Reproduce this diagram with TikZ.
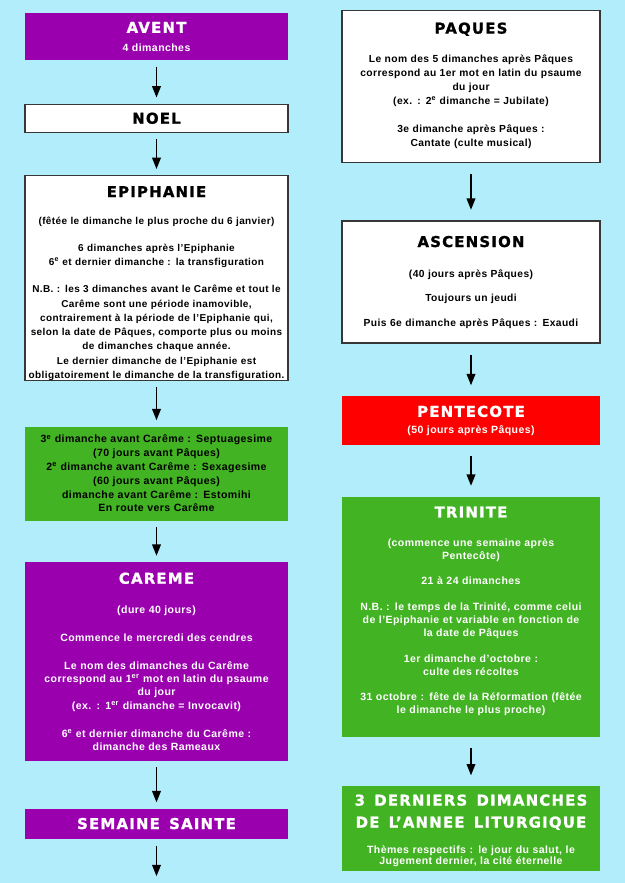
\documentclass[tikz,border=0pt]{standalone}
\usepackage{fontspec}
\setmainfont{Liberation Sans}[LetterSpace=4]
\newfontfamily\titlefont{DejaVu Sans}[LetterSpace=8, BoldFeatures={FakeBold=1.2}]
\usetikzlibrary{arrows.meta,positioning}
\definecolor{litSky}{RGB}{178,237,251}
\definecolor{litPurple}{RGB}{155,0,175}
\definecolor{litGreen}{RGB}{66,179,34}
\definecolor{litRed}{RGB}{255,0,0}
\definecolor{litFrame}{RGB}{55,55,55}
\newcommand{\boxtitle}[1]{{\titlefont\bfseries\fontsize{11.2}{12}\selectfont\spaceskip=0.62em\relax #1}}
\tikzset{
  season/.style={
    rectangle, align=center, inner sep=0pt,
    font=\bfseries\fontsize{7.9}{10}\selectfont},
  leftbox/.style={season, minimum width=197.25pt, text width=195pt},
  rightbox/.style={season, minimum width=193.5pt, text width=190pt},
  whitebox/.style={fill=white, draw=litFrame, line width=1.1pt, text=black},
  purplebox/.style={fill=litPurple, text=white},
  greenbox/.style={fill=litGreen, text=white},
  redbox/.style={fill=litRed, text=white},
  arrowline/.style={-{Triangle[length=8.5pt,width=6.5pt]}, line width=1.1pt, draw=black},
  leftarrow/.style={arrowline, shorten <=4.5pt, shorten >=4.5pt},
  rightarrow/.style={arrowline, shorten <=8pt, shorten >=8pt}
}

\begin{document}
\begin{tikzpicture}[x=0.75pt,y=-0.75pt]
    \fill[litSky] (0,0) rectangle (625,883);

    % temps de Noel
    \node[leftbox, purplebox, minimum height=35.25pt, anchor=north] (avent) at (156.5,13)
        {\boxtitle{AVENT}\\[4pt] 4 dimanches};
    \node[leftbox, whitebox, minimum height=21pt, below=32.25pt of avent] (noel)
        {\boxtitle{NOEL}};
    \node[leftbox, whitebox, minimum height=151.5pt, below=31.5pt of noel,
          font=\bfseries\fontsize{7.5}{10.7}\selectfont] (epiphanie)
        {\rule{0pt}{16pt}\boxtitle{EPIPHANIE}\\[10pt]
         (fêtée le dimanche le plus proche du 6 janvier)\\[9.5pt]
         6 dimanches après l’Epiphanie\\
         6\textsuperscript{e} et dernier dimanche : la transfiguration\\[9.5pt]
         N.B. : les 3 dimanches avant le Carême et tout le\\
         Carême sont une période inamovible,\\
         contrairement à la période de l’Epiphanie qui,\\
         selon la date de Pâques, comporte plus ou moins\\
         de dimanches chaque année.\\
         Le dernier dimanche de l’Epiphanie est\\
         obligatoirement le dimanche de la transfiguration.};
    \node[leftbox, greenbox, text=black, minimum height=70.5pt, below=33.75pt of epiphanie,
          font=\bfseries\fontsize{7.9}{10.35}\selectfont] (septuag)
        {3\textsuperscript{e} dimanche avant Carême : Septuagesime\\
         (70 jours avant Pâques)\\
         2\textsuperscript{e} dimanche avant Carême : Sexagesime\\
         (60 jours avant Pâques)\\
         dimanche avant Carême : Estomihi\\
         En route vers Carême};

    % temps de Paques
    \node[leftbox, purplebox, minimum height=149.25pt, below=30.75pt of septuag] (careme)
        {\boxtitle{CAREME}\\[12pt]
         (dure 40 jours)\\[11pt]
         Commence le mercredi des cendres\\[11pt]
         Le nom des dimanches du Carême\\
         correspond au 1\textsuperscript{er} mot en latin du psaume\\
         du jour\\
         (ex. : 1\textsuperscript{er} dimanche = Invocavit)\\[11pt]
         6\textsuperscript{e} et dernier dimanche du Carême :\\
         dimanche des Rameaux};
    \node[leftbox, purplebox, minimum height=22.5pt, below=35.25pt of careme] (semaine)
        {\boxtitle{SEMAINE SAINTE}};
    \coordinate[below=28pt of semaine] (leftend);

    \draw[leftarrow] (avent) -- (noel);
    \draw[leftarrow] (noel) -- (epiphanie);
    \draw[leftarrow] (epiphanie) -- (septuag);
    \draw[leftarrow] (septuag) -- (careme);
    \draw[leftarrow] (careme) -- (semaine);
    \draw[arrowline, shorten <=5.25pt] (semaine) -- (leftend);

    % colonne de droite
    \node[rightbox, whitebox, minimum height=114pt, anchor=north,
          font=\bfseries\fontsize{7.7}{10.5}\selectfont] (paques) at (471,10)
        {\boxtitle{PAQUES}\\[11pt]
         Le nom des 5 dimanches après Pâques\\
         correspond au 1er mot en latin du psaume\\
         du jour\\
         (ex. : 2\textsuperscript{e} dimanche = Jubilate)\\[11pt]
         3e dimanche après Pâques :\\
         Cantate (culte musical)\rule[-3pt]{0pt}{3pt}};
    \node[rightbox, whitebox, minimum height=91.5pt, below=42.75pt of paques,
          font=\bfseries\fontsize{7.7}{10.5}\selectfont] (ascension)
        {\boxtitle{ASCENSION}\\[12pt]
         (40 jours après Pâques)\\[8pt]
         Toujours un jeudi\\[8pt]
         Puis 6e dimanche après Pâques : Exaudi};
    \node[rightbox, redbox, minimum height=36.75pt, below=39pt of ascension,
          font=\bfseries\fontsize{7.9}{10.5}\selectfont] (pentecote)
        {\boxtitle{PENTECOTE}\\[2pt] (50 jours après Pâques)};
    \node[rightbox, greenbox, minimum height=180pt, below=38.25pt of pentecote,
          font=\bfseries\fontsize{7.9}{9.75}\selectfont] (trinite)
        {\boxtitle{TRINITE}\\[12pt]
         (commence une semaine après\\
         Pentecôte)\\[9.4pt]
         21 à 24 dimanches\\[9.4pt]
         N.B. : le temps de la Trinité, comme celui\\
         de l’Epiphanie et variable en fonction de\\
         la date de Pâques\\[9.4pt]
         1er dimanche d’octobre :\\
         culte des récoltes\\[9.4pt]
         31 octobre : fête de la Réformation (fêtée\\
         le dimanche le plus proche)\rule[-10pt]{0pt}{10pt}};
    \node[rightbox, greenbox, minimum height=63.75pt, below=36.75pt of trinite,
          font=\bfseries\fontsize{7.9}{8.3}\selectfont] (derniers)
        {\rule{0pt}{11pt}\boxtitle{3 DERNIERS DIMANCHES}\\[7pt]
         \boxtitle{DE L’ANNEE LITURGIQUE}\\[11pt]
         Thèmes respectifs : le jour du salut, le\\
         Jugement dernier, la cité éternelle};

    \draw[rightarrow] (paques) -- (ascension);
    \draw[rightarrow] (ascension) -- (pentecote);
    \draw[rightarrow] (pentecote) -- (trinite);
    \draw[rightarrow] (trinite) -- (derniers);
\end{tikzpicture}
\end{document}
